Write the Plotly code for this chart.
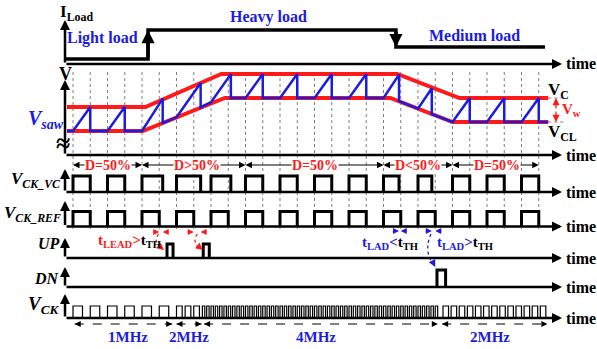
import plotly.graph_objects as go

# ---------------- data ----------------
# time unit = one grid spacing (half a reference-clock period)
grid_t = list(range(0, 28))

# load current step (relative to heavy load)
load_t = [-0.46, 4.35, 4.35, 18.72, 18.72, 27.36]
load_i = [0.15, 0.15, 1.0, 1.0, 0.5, 0.5]
load_labels = ["Light load", "Heavy load", "Medium load"]

# control voltage VC and lower clamp VCL (arbitrary voltage units)
vc_t = [-0.35, 4.2, 8.6, 18.8, 22.4, 27.55]
vc_v = [2.0, 2.0, 3.375, 3.375, 2.375, 2.375]
vcl_t = [-0.35, 4.05, 8.8, 18.4, 22.0, 27.55]
vcl_v = [1.0, 1.0, 2.375, 2.375, 1.375, 1.375]

# sawtooth vertices
saw_t = [-0.35, 0, 1, 1, 2, 3, 3, 4,
         5.2, 5.2, 6, 7.4, 7.4, 8, 9.15, 9.15,
         10, 11, 11, 12, 13, 13, 14, 15, 15, 16, 17, 17, 18,
         18.9, 18.9, 20, 20.8, 20.8, 22,
         23, 23, 24, 25, 25, 26, 27, 27, 27.55]
saw_v = [1, 1, 2, 1, 1, 2, 1, 1,
         2.35, 1.33, 1.57, 3.0, 1.98, 2.2, 3.37, 2.375,
         2.375, 3.375, 2.375, 2.375, 3.375, 2.375, 2.375, 3.375, 2.375, 2.375, 3.375, 2.375, 2.375,
         3.35, 2.24, 1.93, 2.78, 1.7, 1.375,
         2.375, 1.375, 1.375, 2.375, 1.375, 1.375, 2.375, 1.375, 1.375]

# clock edges
vc_rise = [0, 2, 4, 6, 8, 10, 12, 14, 16, 18, 20, 22, 24, 26]
vc_fall = [1, 3, 5.2, 7.4, 9.15, 11, 13, 15, 17, 18.9, 20.8, 23, 25, 27]
ref_rise = [0, 2, 4, 6, 8, 10, 12, 14, 16, 18, 20, 22, 24, 26]
ref_fall = [1, 3, 5, 7, 9, 11, 13, 15, 17, 19, 21, 23, 25, 27]
up_rise = [5.45, 7.55]
up_fall = [5.8, 7.9]
dn_rise = [21.1]
dn_fall = [21.6]

# output clock segments
vck_seg_start = [0, 6, 7.5, 21.45]
vck_seg_count = [6, 3, 55, 13]
vck_seg_period = [1, 0.5, 0.25, 0.47]
vck_seg_width = [0.55, 0.33, 0.14, 0.32]
freq_labels = ["1MHz", "2MHz", "4MHz", "2MHz"]
freq_from = [0.1, 6.0, 7.6, 21.4]
freq_to = [5.75, 7.45, 21.15, 27.5]
freq_text_t = [3.2, 6.75, 14.1, 24.2]

# duty-cycle regions
d_from = [0, 4, 10, 18, 22]
d_to = [4, 10, 18, 22, 27]
d_labels = ["D=50%", "D>50%", "D=50%", "D<50%", "D=50%"]
d_text_t = [2.0, 7.2, 14.0, 20.0, 24.6]

# ---------------- layout helpers ----------------
W, H = 597, 349
RED = "#ff1a1a"
BLUE = "#1c1ce0"
FONT = "Liberation Serif"


def px2t(px):
    return (px - 73.0) / 17.25


T_LEFT = px2t(65)
T_END = px2t(562)

# panel: axis, baseline row (px), px per unit, arrow tip row (px)
panels = {
    "load": ("y", 64, 34, 20),
    "v": ("y2", 155, 24, 80),
    "ckvc": ("y3", 192, 16, 169),
    "ckref": ("y4", 226.5, 15, 201),
    "up": ("y5", 258, 14, 238),
    "dn": ("y6", 287, 17, 267),
    "ck": ("y7", 318, 12, 294),
}


def val(p, py):
    _, b, u, _ = panels[p]
    return (b - py) / u


def yp(py):
    return 1 - py / H


fig = go.Figure()
annotations = []
shapes = []


def arrow(x, y, ax, ay, yref, width=2.5, size=0.8, color="black", head=2):
    annotations.append(dict(x=x, y=y, ax=ax, ay=ay, xref="x", yref=yref,
                            axref="x", ayref=yref, text="", showarrow=True,
                            arrowhead=head, arrowwidth=width, arrowsize=size,
                            arrowcolor=color))


def short_head(x, y, yref, dx, dy, color, width=1.2, size=1.2):
    annotations.append(dict(x=x, y=y, ax=dx, ay=dy, xref="x", yref=yref,
                            text="", showarrow=True, arrowhead=2,
                            arrowwidth=width, arrowsize=size, arrowcolor=color))


def label(px, py, text, size, color="black", xanchor="center"):
    annotations.append(dict(x=px / W, y=yp(py), xref="paper", yref="paper",
                            text=text, showarrow=False, xanchor=xanchor,
                            yanchor="middle", borderpad=0,
                            font=dict(family=FONT, size=size, color=color)))


def pulses(rise, fall):
    xs, ys = [], []
    for r, f in zip(rise, fall):
        xs += [r, r, f, f, None]
        ys += [0, 1, 1, 0, None]
    return xs, ys


def line(x, y, yref, color, width, dash="solid", shape="linear"):
    fig.add_trace(go.Scatter(x=x, y=y, yaxis=yref, mode="lines",
                             line=dict(color=color, width=width, dash=dash, shape=shape),
                             hoverinfo="skip"))


# grid lines
for t in grid_t:
    shapes.append(dict(type="line", xref="x", yref="paper", x0=t, x1=t,
                       y0=yp(72), y1=yp(229), layer="below",
                       line=dict(color="#808080", width=1, dash="dot")))

# axes of every panel
for p, (ax, b, u, tip) in panels.items():
    arrow(T_END, 0, T_LEFT, 0, ax)
    arrow(T_LEFT, val(p, tip), T_LEFT, 0, ax)
    label(565, b, "<b>time</b>", 16, xanchor="left")

# load current
line(load_t, load_i, "y", "black", 3.5)
arrow(load_t[2], load_i[2], load_t[1], load_i[1], "y", width=3.5, size=0.75)
arrow(load_t[4], load_i[4], load_t[3], load_i[3], "y", width=3.5, size=0.75)
label(102, 38, "<b>%s</b>" % load_labels[0], 16, BLUE)
label(268, 17, "<b>%s</b>" % load_labels[1], 16, BLUE)
label(474, 35, "<b>%s</b>" % load_labels[2], 16, BLUE)
label(59, 13, "<b>I<sub>Load</sub></b>", 17, xanchor="left")

# sawtooth panel
line(vc_t, vc_v, "y2", RED, 4)
line(vcl_t, vcl_v, "y2", RED, 4)
line(saw_t, saw_v, "y2", BLUE, 2.5)
label(65, 74, "<b>V</b>", 18)
label(46, 120, "<b><i>V<sub>saw</sub></i></b>", 20, BLUE)
label(63, 143, "<b>≈</b>", 26)
label(547, 91, "<b>V<sub>C</sub></b>", 17, xanchor="left")
label(547, 133, "<b>V<sub>CL</sub></b>", 17, xanchor="left")
label(561, 110, "<b>V<sub>w</sub></b>", 15, RED, xanchor="left")
for v in (vc_v[-1], vcl_v[-1]):
    fig.add_trace(go.Scatter(x=[vc_t[-1], px2t(564)], y=[v, v], yaxis="y2", mode="lines",
                             line=dict(color="#808080", width=1, dash="dot"), hoverinfo="skip"))
vw_t = px2t(556)
vw_mid = (vc_v[-1] + vcl_v[-1]) / 2
arrow(vw_t, vc_v[-1], vw_t, vw_mid, "y2", width=1.3, size=1.1, color=RED)
arrow(vw_t, vcl_v[-1], vw_t, vw_mid, "y2", width=1.3, size=1.1, color=RED)

# duty-cycle row
d_y = val("v", 165)
for a, b_, txt, tt in zip(d_from, d_to, d_labels, d_text_t):
    arrow(a, d_y, tt, d_y, "y2", width=1, size=1.3)
    arrow(b_, d_y, tt, d_y, "y2", width=1, size=1.3)
    annotations.append(dict(x=tt, y=d_y, xref="x", yref="y2", text="<b>%s</b>" % txt,
                            showarrow=False, bgcolor="white", borderpad=0,
                            font=dict(family=FONT, size=14, color=RED)))

# reference and VC clocks
x, y = pulses(vc_rise, vc_fall)
line(x, y, "y3", "black", 3)
x, y = pulses(ref_rise, ref_fall)
line(x, y, "y4", "black", 3)
label(62, 180, "<b><i>V<sub>CK_VC</sub></i></b>", 17, xanchor="right")
label(62, 214, "<b><i>V<sub>CK_REF</sub></i></b>", 17, xanchor="right")

# UP / DN
x, y = pulses(up_rise, up_fall)
line(x, y, "y5", "black", 3)
x, y = pulses(dn_rise, dn_fall)
line(x, y, "y6", "black", 3)
label(61, 243, "<b><i>UP</i></b>", 16, xanchor="right")
label(61, 278, "<b><i>DN</i></b>", 16, xanchor="right")

# lead / lag markers
m_up = val("up", 232)
for rf, vf in ((ref_fall[2], vc_fall[2]), (ref_fall[3], vc_fall[3])):
    arrow(rf, m_up, rf - 0.45, m_up, "y5", width=1, size=1.2, color=RED)
    arrow(vf, m_up, vf + 0.45, m_up, "y5", width=1, size=1.2, color=RED)
m_dn = val("dn", 231)
for rf, vf in ((ref_fall[9], vc_fall[9]), (ref_fall[10], vc_fall[10])):
    arrow(vf, m_dn, vf - 0.45, m_dn, "y6", width=1, size=1.2, color=BLUE)
    arrow(rf, m_dn, rf + 0.45, m_dn, "y6", width=1, size=1.2, color=BLUE)

for off in (0.0, 2.25):
    cx = [4.95 + off, 4.82 + off, 4.95 + off, 5.2 + off]
    cy = [val("up", 234), val("up", 240), val("up", 246), val("up", 249)]
    line(cx, cy, "y5", RED, 1.3, dash="dot", shape="spline")
    short_head(5.28 + off, val("up", 250), "y5", -5, -4, RED)
cx = [20.75, 20.57, 20.65, 20.92]
cy = [val("dn", 234), val("dn", 245), val("dn", 257), val("dn", 264)]
line(cx, cy, "y6", BLUE, 1.3, dash="dot", shape="spline")
short_head(21.0, val("dn", 267), "y6", -3, -6, BLUE)

label(129, 241, "<b>t<sub>LEAD</sub>><span style='color:black'>t<sub>TH</sub></span></b>", 15, RED)
label(390, 243, "<b>t<sub>LAD</sub><<span style='color:black'>t<sub>TH</sub></span></b>", 15, BLUE)
label(465, 243, "<b>t<sub>LAD</sub>><span style='color:black'>t<sub>TH</sub></span></b>", 15, BLUE)

# output clock
xs, ys = [], []
for s, n, per, w in zip(vck_seg_start, vck_seg_count, vck_seg_period, vck_seg_width):
    for k in range(n):
        r = s + k * per
        xs += [r, r, r + w, r + w, None]
        ys += [0, 1, 1, 0, None]
line(xs, ys, "y7", "black", 1.2)
label(61, 305, "<b><i>V<sub>CK</sub></i></b>", 19, xanchor="right")
f_y = val("ck", 324)
for a, b_, txt, tt in zip(freq_from, freq_to, freq_labels, freq_text_t):
    line([a, b_], [f_y, f_y], "y7", "black", 1, dash="dash")
    arrow(a, f_y, a + 0.35, f_y, "y7", width=1, size=1.2)
    arrow(b_, f_y, b_ - 0.35, f_y, "y7", width=1, size=1.2)
    annotations.append(dict(x=tt, y=val("ck", 337), xref="x", yref="y7",
                            text="<b>%s</b>" % txt, showarrow=False,
                            font=dict(family=FONT, size=15, color=BLUE)))

# ---------------- axes & layout ----------------
layout_axes = {}
for i, (p, (ax, b, u, tip)) in enumerate(panels.items()):
    key = "yaxis" if ax == "y" else "yaxis" + ax[1:]
    cfg = dict(range=[(b - H) / u, b / u], visible=False, domain=[0, 1], fixedrange=True)
    if ax != "y":
        cfg["overlaying"] = "y"
    layout_axes[key] = cfg

fig.update_layout(
    width=W, height=H, margin=dict(l=0, r=0, t=0, b=0),
    paper_bgcolor="white", plot_bgcolor="white", showlegend=False,
    xaxis=dict(range=[px2t(0), px2t(W)], visible=False, domain=[0, 1], fixedrange=True),
    annotations=annotations, shapes=shapes,
    **layout_axes,
)
fig.write_html("out.html", config={"displayModeBar": False},
               post_script="document.body.style.margin='0px';")
